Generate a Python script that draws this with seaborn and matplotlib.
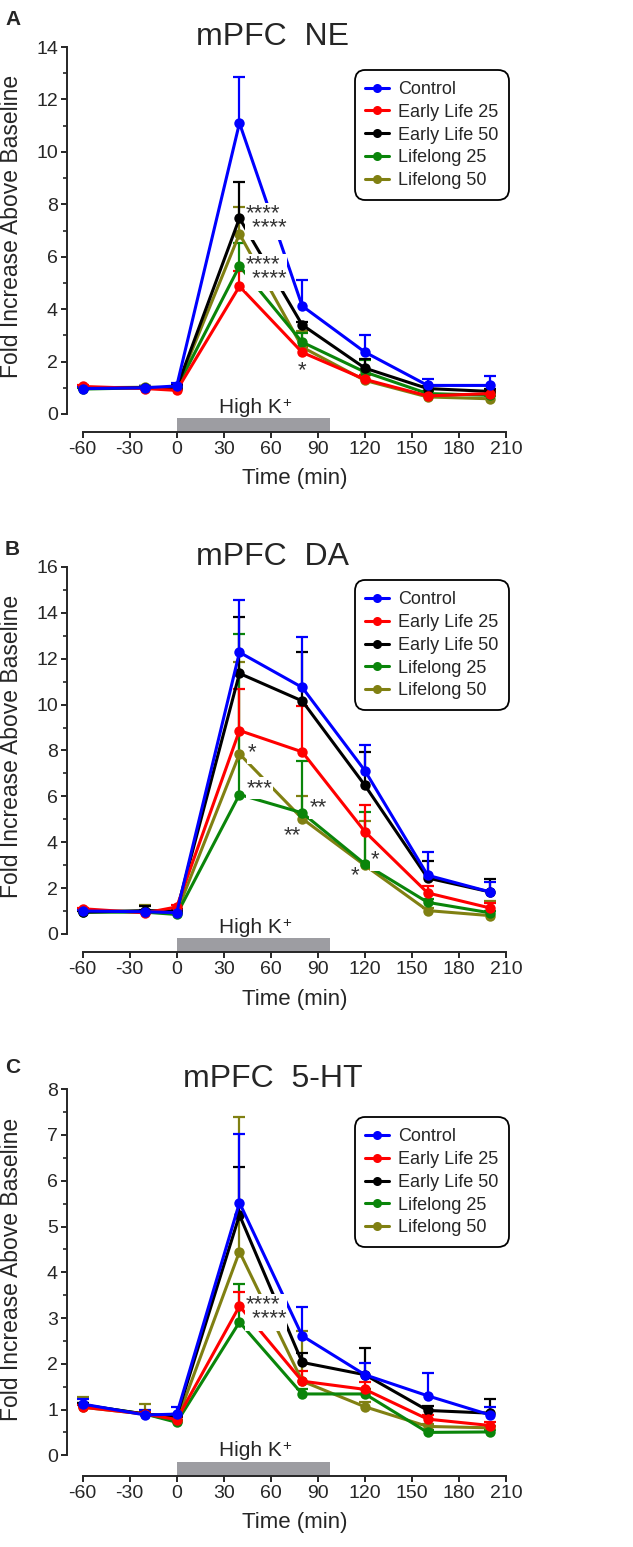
import numpy as np
import pandas as pd
import seaborn as sns
import matplotlib.pyplot as plt
import matplotlib.transforms as mtransforms
from matplotlib.lines import Line2D
from matplotlib.ticker import MultipleLocator

time = [-60, -20, 0, 40, 80, 120, 160, 200]
groups = ['Control', 'Early Life 25', 'Early Life 50', 'Lifelong 25', 'Lifelong 50']
colors = ['#0000ff', '#ff0000', '#000000', '#0a850a', '#808012']

# mPFC NE (means, upper SEM)
ne_control = [0.97, 1.0, 1.07, 11.1, 4.12, 2.36, 1.09, 1.09]
ne_el25 = [1.05, 0.97, 0.9, 4.87, 2.35, 1.32, 0.69, 0.78]
ne_el50 = [1.0, 1.0, 1.0, 7.47, 3.4, 1.75, 0.97, 0.86]
ne_ll25 = [0.95, 1.0, 1.0, 5.64, 2.74, 1.6, 0.78, 0.71]
ne_ll50 = [1.0, 1.02, 1.0, 6.87, 2.55, 1.28, 0.65, 0.58]
ne_control_sem = [0.05, 0.08, 0.1, 1.75, 0.98, 0.67, 0.26, 0.36]
ne_el25_sem = [0.05, 0.05, 0.05, 0.6, 0.2, 0.15, 0.08, 0.08]
ne_el50_sem = [0.05, 0.08, 0.1, 1.38, 0.1, 0.35, 0.1, 0.08]
ne_ll25_sem = [0.05, 0.05, 0.05, 0.9, 0.35, 0.45, 0.1, 0.1]
ne_ll50_sem = [0.05, 0.05, 0.05, 1.03, 0.6, 0.2, 0.1, 0.1]

# mPFC DA
da_control = [1.0, 0.97, 0.93, 12.28, 10.75, 7.12, 2.56, 1.83]
da_el25 = [1.1, 0.92, 1.18, 8.87, 7.94, 4.46, 1.79, 1.13]
da_el50 = [0.95, 1.02, 1.0, 11.36, 10.16, 6.48, 2.44, 1.83]
da_ll25 = [0.95, 0.95, 0.85, 6.08, 5.28, 3.05, 1.38, 0.92]
da_ll50 = [1.0, 0.98, 0.95, 7.85, 5.03, 2.99, 1.02, 0.8]
da_control_sem = [0.05, 0.08, 0.1, 2.29, 2.21, 1.13, 1.0, 0.42]
da_el25_sem = [0.05, 0.08, 0.1, 1.81, 1.99, 1.18, 0.3, 0.22]
da_el50_sem = [0.05, 0.2, 0.1, 2.44, 2.12, 1.47, 0.76, 0.58]
da_ll25_sem = [0.05, 0.05, 0.05, 7.0, 2.27, 2.27, 0.15, 0.1]
da_ll50_sem = [0.1, 0.27, 0.05, 4.02, 1.0, 1.95, 0.1, 0.62]

# mPFC 5-HT
ht_control = [1.12, 0.88, 0.9, 5.52, 2.61, 1.76, 1.3, 0.88]
ht_el25 = [1.05, 0.9, 0.78, 3.26, 1.62, 1.44, 0.79, 0.65]
ht_el50 = [1.1, 0.9, 0.85, 5.25, 2.03, 1.76, 0.98, 0.92]
ht_ll25 = [1.1, 0.9, 0.72, 2.91, 1.34, 1.34, 0.5, 0.51]
ht_ll50 = [1.05, 0.9, 0.75, 4.45, 1.62, 1.06, 0.63, 0.6]
ht_control_sem = [0.1, 0.1, 0.15, 1.5, 0.62, 0.26, 0.5, 0.17]
ht_el25_sem = [0.05, 0.05, 0.05, 0.3, 0.23, 0.16, 0.1, 0.07]
ht_el50_sem = [0.05, 0.05, 0.05, 1.06, 0.2, 0.58, 0.1, 0.3]
ht_ll25_sem = [0.05, 0.05, 0.05, 0.84, 0.1, 0.1, 0.05, 0.05]
ht_ll50_sem = [0.23, 0.22, 0.1, 2.94, 1.1, 0.1, 0.05, 0.05]

stim_start, stim_end = 0, 98

# significance marks: (text, x, y, ha)
ne_stars = [('****\n ****', 44, 7.35, 'left'),
            ('****\n ****', 44, 5.4, 'left'),
            ('*', 80, 1.65, 'center')]
da_stars = [('*', 48, 7.9, 'center'), ('***', 53, 6.35, 'center'),
            ('**', 90, 5.5, 'center'), ('**', 74, 4.27, 'center'),
            ('*', 126.5, 3.22, 'center'), ('*', 113.5, 2.52, 'center')]
ht_stars = [('****\n ****', 44, 3.12, 'left')]

sns.set_style('ticks')
plt.rcParams['font.family'] = ['Liberation Sans', 'DejaVu Sans']
plt.rcParams['axes.linewidth'] = 1.4
plt.rcParams['axes.unicode_minus'] = False

fig = plt.figure(figsize=(6.33, 15.47), dpi=100)

panels = [
    dict(letter='A', title='mPFC  NE', means=[ne_control, ne_el25, ne_el50, ne_ll25, ne_ll50],
         sems=[ne_control_sem, ne_el25_sem, ne_el50_sem, ne_ll25_sem, ne_ll50_sem],
         ymax=14, ybot=-0.69, major=2, minor=1, pos=[0.1058, 0.7207, 0.6986, 0.2489],
         leg_top=0.94, stars=ne_stars, letter_y=1 - 25 / 1547),
    dict(letter='B', title='mPFC  DA', means=[da_control, da_el25, da_el50, da_ll25, da_ll50],
         sems=[da_control_sem, da_el25_sem, da_el50_sem, da_ll25_sem, da_ll50_sem],
         ymax=16, ybot=-0.8, major=2, minor=1, pos=[0.1058, 0.3844, 0.6986, 0.2491],
         leg_top=0.965, stars=da_stars, letter_y=1 - 555 / 1547),
    dict(letter='C', title='mPFC  5-HT', means=[ht_control, ht_el25, ht_el50, ht_ll25, ht_ll50],
         sems=[ht_control_sem, ht_el25_sem, ht_el50_sem, ht_ll25_sem, ht_ll50_sem],
         ymax=8, ybot=-0.446, major=1, minor=0.5, pos=[0.1058, 0.0461, 0.6986, 0.2498],
         leg_top=0.927, stars=ht_stars, letter_y=1 - 1073 / 1547),
]

for p in panels:
    ax = fig.add_axes(p['pos'])
    rows = []
    for g, m in zip(groups, p['means']):
        for t, v in zip(time, m):
            rows.append({'time': t, 'value': v, 'group': g})
    df = pd.DataFrame(rows)
    order = groups[::-1]
    pal = dict(zip(groups, colors))

    # upward error bars
    for g in order:
        i = groups.index(g)
        m = np.array(p['means'][i])
        s = np.array(p['sems'][i])
        ax.vlines(time, m, m + s, color=colors[i], lw=1.6, zorder=1.5)
        ax.plot(time, m + s, ls='none', marker='_', ms=9, mew=1.6, color=colors[i], zorder=1.5)

    sns.lineplot(data=df, x='time', y='value', hue='group', hue_order=order, palette=pal,
                 marker='o', markersize=7.5, markeredgewidth=0, linewidth=2.2,
                 legend=False, errorbar=None, ax=ax)

    ax.set_xlim(-70, 212)
    ax.set_ylim(p['ybot'], p['ymax'])
    sns.despine(ax=ax)
    ax.spines['left'].set_bounds(0, p['ymax'])
    ax.spines['bottom'].set_bounds(-60, 210)
    ax.set_xticks(np.arange(-60, 211, 30))
    ax.yaxis.set_major_locator(MultipleLocator(p['major']))
    ax.yaxis.set_minor_locator(MultipleLocator(p['minor']))
    ax.set_yticks(np.arange(0, p['ymax'] + 0.01, p['major']))
    ax.tick_params(axis='both', which='major', labelsize=14, length=4.5, width=1.4, pad=2)
    ax.tick_params(axis='y', which='minor', length=3, width=1.2)

    # stimulus bar
    trans = mtransforms.blended_transform_factory(ax.transData, ax.transAxes)
    ax.axvspan(stim_start, stim_end, ymin=0, ymax=0.036, color='#9d9da2', lw=0, zorder=1)
    hk = ax.text((stim_start + stim_end) / 2 - 2, 0.05, 'High K', transform=trans,
                 ha='center', va='baseline', fontsize=15)
    ax.annotate('+', xy=(1, 1), xycoords=hk, xytext=(0.5, 1.5), textcoords='offset points',
                ha='left', va='top', fontsize=11)

    ax.set_xlabel('Time (min)', fontsize=16)
    ax.xaxis.set_label_coords(0.514, -0.094)
    ax.set_ylabel('Fold Increase Above Baseline', fontsize=16.5)
    ax.yaxis.set_label_coords(-0.1, 0.535)
    ax.text(0.465, 1.005, p['title'], transform=ax.transAxes, ha='center', va='baseline', fontsize=23)

    for txt, x, y, ha in p['stars']:
        ax.text(x, y, txt, ha=ha, va='center', fontsize=16, color='#333333', zorder=5,
                linespacing=0.62, multialignment='left',
                bbox=dict(facecolor='white', edgecolor='none', pad=0.3))

    handles = [Line2D([0], [0], color=c, marker='o', lw=2.2, ms=6.5, mew=0) for c in colors]
    leg = ax.legend(handles, groups, loc='upper right', bbox_to_anchor=(1.0, p['leg_top']),
                    fontsize=13, frameon=True, fancybox=True, handlelength=1.3,
                    handletextpad=0.5, labelspacing=0.32, borderpad=0.6, borderaxespad=0)
    frame = leg.get_frame()
    frame.set_edgecolor('black')
    frame.set_linewidth(1.3)
    frame.set_alpha(1)
    frame.set_boxstyle('round', pad=0, rounding_size=0.6)

    fig.text(5 / 633, p['letter_y'], p['letter'], fontsize=15, fontweight='bold', va='baseline')

fig.savefig('out.png', dpi=100)
